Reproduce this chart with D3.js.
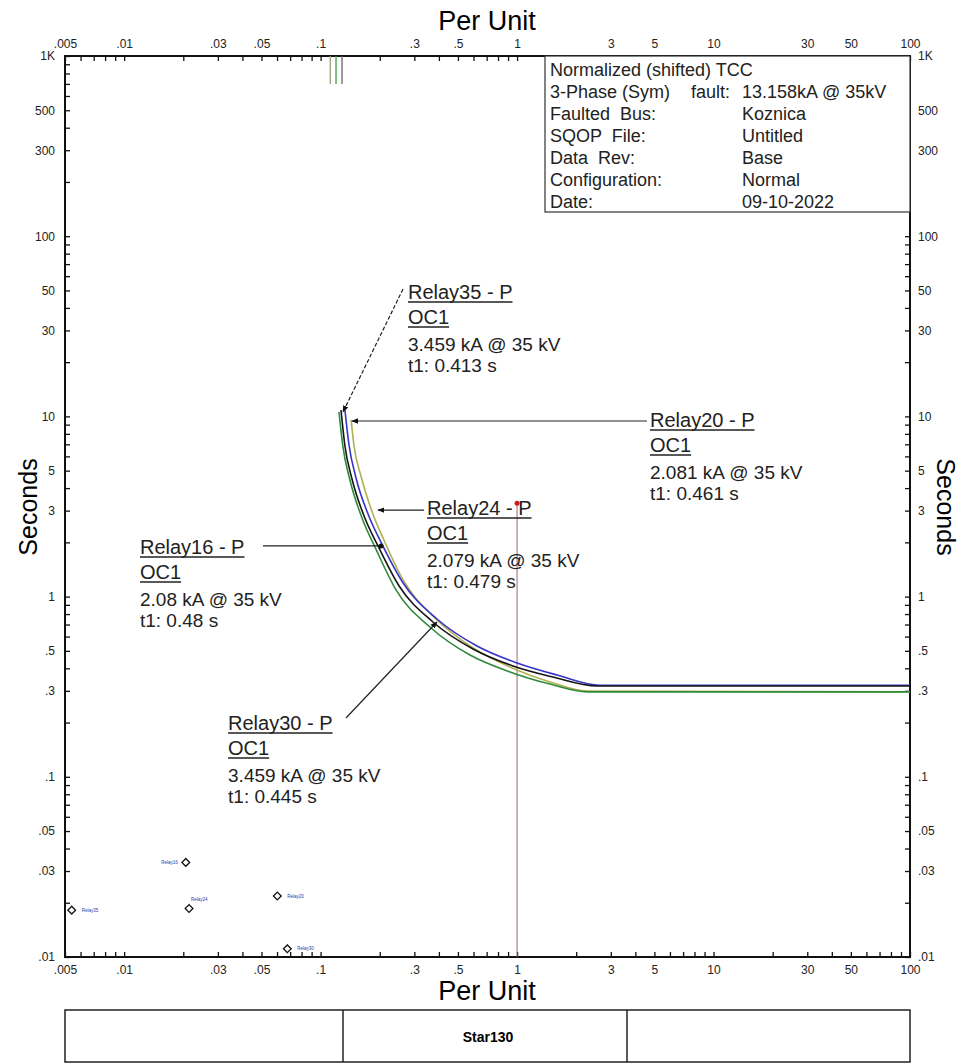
<!DOCTYPE html>
<html>
<head>
<meta charset="utf-8">
<script src="https://cdn.jsdelivr.net/npm/d3@7"></script>
<style>
  body { margin: 0; background: #fff; }
  text { font-family: "Liberation Sans", Arial, sans-serif; }
</style>
</head>
<body>
<div id="chart"></div>
<script>
// Axis tick labels
const xLabelValues = [0.005, 0.01, 0.03, 0.05, 0.1, 0.3, 0.5, 1, 3, 5, 10, 30, 50, 100];
const xLabelText = [".005", ".01", ".03", ".05", ".1", ".3", ".5", "1", "3", "5", "10", "30", "50", "100"];
const yLabelValues = [1000, 500, 300, 100, 50, 30, 10, 5, 3, 1, 0.5, 0.3, 0.1, 0.05, 0.03, 0.01];
const yLabelText = ["1K", "500", "300", "100", "50", "30", "10", "5", "3", "1", ".5", ".3", ".1", ".05", ".03", ".01"];

// Relay curves: [per unit, seconds]
const curveOlive = [[0.143, 9.55], [0.148, 6.85], [0.1605, 4.67], [0.183, 2.95], [0.210, 2.06], [0.263, 1.236],
  [0.382, 0.761], [0.597, 0.519], [0.943, 0.402], [1.47, 0.336], [2.27, 0.299], [100, 0.296]];
const curveBlue = [[0.133, 10.85], [0.1395, 6.94], [0.151, 4.61], [0.176, 2.80], [0.205, 1.96], [0.263, 1.19],
  [0.391, 0.751], [0.625, 0.532], [1.0, 0.428], [1.6, 0.367], [2.64, 0.322], [100, 0.322]];
const curveGreen = [[0.124, 10.6], [0.130, 6.76], [0.141, 4.44], [0.164, 2.66], [0.191, 1.84], [0.242, 1.09],
  [0.36, 0.678], [0.576, 0.474], [0.92, 0.382], [1.47, 0.327], [2.27, 0.296], [100, 0.296]];
const curveBlack = [[0.127, 10.85], [0.133, 6.85], [0.1445, 4.49], [0.168, 2.73], [0.196, 1.91], [0.251, 1.145],
  [0.373, 0.723], [0.597, 0.512], [0.953, 0.412], [1.52, 0.358], [2.55, 0.319], [100, 0.319]];

// Short marks at the top edge (per unit)
const topMarkPU = [0.112, 0.1198, 0.1285];
const topMarkRange = [700, 1000];

// Fault current line
const faultPU = 1;
const faultRange = [0.01, 3.3];

// Diamonds near the bottom-left: per unit, seconds, tag
const diamondPU = [0.00541, 0.0206, 0.0214, 0.0602, 0.0677];
const diamondSec = [0.0182, 0.0335, 0.0186, 0.0218, 0.0111];
const diamondTag = ["Relay35", "Relay16", "Relay24", "Relay20", "Relay30"];

// Relay annotations
const relayNames = ["Relay35 - P", "Relay20 - P", "Relay24 - P", "Relay16 - P", "Relay30 - P"];
const relayElement = ["OC1", "OC1", "OC1", "OC1", "OC1"];
const relayCurrent = ["3.459 kA @ 35 kV", "2.081 kA @ 35 kV", "2.079 kA @ 35 kV", "2.08 kA @ 35 kV", "3.459 kA @ 35 kV"];
const relayTime = ["t1: 0.413 s", "t1: 0.461 s", "t1: 0.479 s", "t1: 0.48 s", "t1: 0.445 s"];
// where the leaders touch the curves
const relayPointPU = [0.130, 0.1445, 0.196, 0.203, 0.391];
const relayPointSec = [10.58, 9.43, 3.02, 1.91, 0.723];

// Info box
const infoLeft = ["Normalized (shifted) TCC", "3-Phase (Sym)", "Faulted  Bus:", "SQOP  File:", "Data  Rev:", "Configuration:", "Date:"];
const infoMid = ["", "fault:", "", "", "", "", ""];
const infoRight = ["", "13.158kA @ 35kV", "Koznica", "Untitled", "Base", "Normal", "09-10-2022"];

// Layout
const margin = { top: 56, left: 65 };
const plotW = 845, plotH = 901;

const svg = d3.select("#chart")
  .append("svg")
  .attr("width", 960)
  .attr("height", 1063);

const g = svg.append("g")
  .attr("transform", `translate(${margin.left},${margin.top})`);

const x = d3.scaleLog().domain([0.005, 100]).range([0, plotW]);
const y = d3.scaleLog().domain([0.01, 1000]).range([plotH, 0]);

const near = (a, b) => Math.abs(a - b) / b < 1e-6;
const fmtX = d => { const i = xLabelValues.findIndex(v => near(d, v)); return i >= 0 ? xLabelText[i] : ""; };
const fmtY = d => { const i = yLabelValues.findIndex(v => near(d, v)); return i >= 0 ? yLabelText[i] : ""; };

function styleAxis(sel) {
  sel.select(".domain").remove();
  sel.selectAll(".tick line").attr("stroke", "#111").attr("stroke-width", 1.3);
  sel.selectAll(".tick text")
    .attr("font-family", "Liberation Sans, Arial, sans-serif")
    .attr("font-size", 12)
    .attr("fill", "#222");
}

g.append("g").attr("transform", `translate(0,${plotH})`)
  .call(d3.axisBottom(x).tickValues(x.ticks()).tickFormat(fmtX).tickSizeInner(-5).tickSizeOuter(0).tickPadding(8))
  .call(styleAxis);
g.append("g")
  .call(d3.axisTop(x).tickValues(x.ticks()).tickFormat(fmtX).tickSizeInner(-5).tickSizeOuter(0).tickPadding(8))
  .call(styleAxis);
g.append("g")
  .call(d3.axisLeft(y).tickValues(y.ticks()).tickFormat(fmtY).tickSizeInner(-5).tickSizeOuter(0).tickPadding(10))
  .call(styleAxis);
g.append("g").attr("transform", `translate(${plotW},0)`)
  .call(d3.axisRight(y).tickValues(y.ticks()).tickFormat(fmtY).tickSizeInner(-5).tickSizeOuter(0).tickPadding(8))
  .call(styleAxis);

// Frame
g.append("rect")
  .attr("width", plotW)
  .attr("height", plotH)
  .attr("fill", "none")
  .attr("stroke", "#111")
  .attr("stroke-width", 2);

// Axis titles
svg.append("text").attr("x", 487).attr("y", 30).attr("text-anchor", "middle")
  .attr("font-size", 27).text("Per Unit");
svg.append("text").attr("x", 487).attr("y", 1000).attr("text-anchor", "middle")
  .attr("font-size", 27).text("Per Unit");
svg.append("text").attr("transform", "translate(37,507) rotate(-90)").attr("text-anchor", "middle")
  .attr("font-size", 25).text("Seconds");
svg.append("text").attr("transform", "translate(937,507) rotate(90)").attr("text-anchor", "middle")
  .attr("font-size", 25).text("Seconds");

// Top marks
const topMarkColors = ["#9c9c7a", "#3f9a4a", "#666"];
g.selectAll("line.topmark")
  .data(topMarkPU)
  .enter()
  .append("line")
  .attr("class", "topmark")
  .attr("x1", d => x(d)).attr("x2", d => x(d))
  .attr("y1", y(topMarkRange[1])).attr("y2", y(topMarkRange[0]))
  .attr("stroke", (d, i) => topMarkColors[i])
  .attr("stroke-width", 1.3);

// Fault line at 1 pu
g.append("line")
  .attr("x1", x(faultPU)).attr("x2", x(faultPU))
  .attr("y1", y(faultRange[1])).attr("y2", y(faultRange[0]))
  .attr("stroke", "#a06868")
  .attr("stroke-width", 1);
g.append("circle")
  .attr("cx", x(faultPU)).attr("cy", y(faultRange[1]))
  .attr("r", 2.5)
  .attr("fill", "#d01818");

// Relay curves
const line = d3.line()
  .x(d => x(d[0]))
  .y(d => y(d[1]))
  .curve(d3.curveMonotoneX);

const curveSet = [
  { data: curveOlive, color: "#b0b050" },
  { data: curveBlue, color: "#3535c8" },
  { data: curveGreen, color: "#2f8a3a" },
  { data: curveBlack, color: "#151515" }
];
g.selectAll("path.curve")
  .data(curveSet)
  .enter()
  .append("path")
  .attr("class", "curve")
  .attr("d", d => line(d.data))
  .attr("fill", "none")
  .attr("stroke", d => d.color)
  .attr("stroke-width", 1.6);

// Diamonds
const diamonds = diamondPU.map((p, i) => ({ pu: p, sec: diamondSec[i], tag: diamondTag[i] }));
const tagSide = ["r", "l", "tr", "r", "r"];
g.selectAll("path.diamond")
  .data(diamonds)
  .enter()
  .append("path")
  .attr("class", "diamond")
  .attr("d", d3.symbol(d3.symbolSquare, 30))
  .attr("transform", d => `translate(${x(d.pu)},${y(d.sec)}) rotate(45)`)
  .attr("fill", "white")
  .attr("stroke", "#111")
  .attr("stroke-width", 1.3);
g.selectAll("text.dtag")
  .data(diamonds)
  .enter()
  .append("text")
  .attr("class", "dtag")
  .attr("x", (d, i) => x(d.pu) + (tagSide[i] === "l" ? -8 : tagSide[i] === "tr" ? 2 : 10))
  .attr("y", (d, i) => y(d.sec) + (tagSide[i] === "tr" ? -7 : 1.5))
  .attr("text-anchor", (d, i) => tagSide[i] === "l" ? "end" : "start")
  .attr("font-size", 4.5)
  .attr("fill", "#2a3aa8")
  .text(d => d.tag);

// Annotation layout: title left edge & title middle (data coords), leader start (data coords)
const noteTitlePU = [0.2785, 4.75, 0.348, 0.01204, 0.0338];
const noteTitleSec = [49.0, 9.55, 3.10, 1.885, 0.199];
const leaderFromPU = [0.2627, 4.58, 0.336, 0.0509, 0.1346];
const leaderFromSec = [50.9, 9.43, 3.02, 1.91, 0.212];
const leaderEnd = ["arrow", "arrow", "arrow", "dot", "arrow"];
const leaderDash = [true, false, false, false, false];
const lineOffsets = [0, 25, 52, 73];

svg.append("defs").append("marker")
  .attr("id", "arrow")
  .attr("viewBox", "0 0 10 10")
  .attr("refX", 9).attr("refY", 5)
  .attr("markerWidth", 7).attr("markerHeight", 7)
  .attr("markerUnits", "userSpaceOnUse")
  .attr("orient", "auto")
  .append("path")
  .attr("d", "M0,1 L10,5 L0,9 Z")
  .attr("fill", "#111");

relayNames.forEach((name, i) => {
  const tx = x(noteTitlePU[i]);
  const ty = y(noteTitleSec[i]);
  const ax = x(relayPointPU[i]), ay = y(relayPointSec[i]);
  const lx = x(leaderFromPU[i]), ly = y(leaderFromSec[i]);

  const leader = g.append("line")
    .attr("x1", lx).attr("y1", ly)
    .attr("x2", ax).attr("y2", ay)
    .attr("stroke", "#222")
    .attr("stroke-width", 1.2);
  if (leaderDash[i]) leader.attr("stroke-dasharray", "4,2");
  if (leaderEnd[i] === "arrow") leader.attr("marker-end", "url(#arrow)");
  else g.append("circle").attr("cx", ax).attr("cy", ay).attr("r", 2.5).attr("fill", "#111");

  const lines = [name, relayElement[i], relayCurrent[i], relayTime[i]];
  lines.forEach((t, k) => {
    const txt = g.append("text")
      .attr("x", tx)
      .attr("y", ty + lineOffsets[k] + 7)
      .attr("font-size", k < 2 ? 20 : 19)
      .attr("fill", "#222")
      .text(t);
    if (k < 2) {
      const w = txt.node().getComputedTextLength();
      g.append("line")
        .attr("x1", tx).attr("x2", tx + w)
        .attr("y1", ty + lineOffsets[k] + 10).attr("y2", ty + lineOffsets[k] + 10)
        .attr("stroke", "#222")
        .attr("stroke-width", 1.5);
    }
  });
});

// Info box
const info = svg.append("g").attr("transform", "translate(545,56)");
info.append("rect")
  .attr("width", 365)
  .attr("height", 156)
  .attr("fill", "white")
  .attr("stroke", "#333")
  .attr("stroke-width", 1.2);
const infoRows = infoLeft.map((t, i) => ({ left: t, mid: infoMid[i], right: infoRight[i] }));
const row = info.selectAll("g.row")
  .data(infoRows)
  .enter()
  .append("g")
  .attr("class", "row")
  .attr("transform", (d, i) => `translate(0,${20 + i * 22})`);
row.append("text").attr("x", 5).attr("font-size", 18).attr("fill", "#222")
  .style("white-space", "pre").text(d => d.left);
row.append("text").attr("x", 146).attr("font-size", 18).attr("fill", "#222").text(d => d.mid);
row.append("text").attr("x", 197).attr("font-size", 18).attr("fill", "#222").text(d => d.right);

// Bottom title block
const block = svg.append("g");
block.append("rect")
  .attr("x", 65).attr("y", 1010)
  .attr("width", 845).attr("height", 52)
  .attr("fill", "white")
  .attr("stroke", "#222")
  .attr("stroke-width", 1.5);
[343, 627].forEach(px => {
  block.append("line")
    .attr("x1", px).attr("x2", px)
    .attr("y1", 1010).attr("y2", 1062)
    .attr("stroke", "#222")
    .attr("stroke-width", 1.5);
});
block.append("text")
  .attr("x", 488).attr("y", 1042)
  .attr("text-anchor", "middle")
  .attr("font-size", 14)
  .attr("font-weight", "bold")
  .text("Star130");
</script>
</body>
</html>
